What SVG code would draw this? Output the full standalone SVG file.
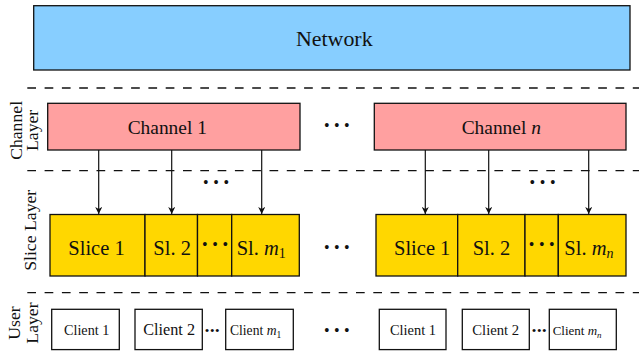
<svg xmlns="http://www.w3.org/2000/svg" width="639" height="353" viewBox="0 0 639 353">
<style>
.box{stroke:#111;stroke-width:1.3}
.net{fill:#87CEFF}
.ch{fill:#FFA0A0}
.sl{fill:#FFD700}
.cl{fill:#fff}
.dash{stroke:#111;stroke-width:1.3;stroke-dasharray:8.7 8.6;fill:none}
.conn{stroke:#111;stroke-width:1.2;fill:none}
text{font-family:"Liberation Serif","Times New Roman",serif;fill:#111}
.lay{font-size:17.7px;text-anchor:middle}
.dots{font-size:16px;text-anchor:middle}
.sdots{font-size:13px;text-anchor:middle}
.m{font-style:italic}
</style>
<defs>
<marker id="arr" viewBox="0 0 10 10" refX="10" refY="5" markerWidth="7" markerHeight="7" markerUnits="userSpaceOnUse" orient="auto">
<path d="M0,0 L10,5 L0,10 L3,5 Z" fill="#111"/>
</marker>
</defs>
<g id="separators">
<line class="dash" x1="27.3" y1="88" x2="639" y2="88"/>
<line class="dash" x1="27.3" y1="170.7" x2="639" y2="170.7"/>
<line class="dash" x1="27.3" y1="292.7" x2="639" y2="292.7"/>
</g>
<g id="layer-labels">
<text class="lay" transform="translate(21.5,130.4) rotate(-90)">Channel</text>
<text class="lay" transform="translate(37.5,130.4) rotate(-90)">Layer</text>
<text class="lay" transform="translate(36,230.3) rotate(-90)">Slice Layer</text>
<text class="lay" transform="translate(20.3,323) rotate(-90)">User</text>
<text class="lay" transform="translate(37.5,323) rotate(-90)">Layer</text>
</g>
<g id="network">
<rect class="box net" x="33.7" y="5.7" width="596.3" height="64.3"/>
<text x="296" y="45.7" font-size="21.9">Network</text>
</g>
<g id="channel-1">
<rect class="box ch" x="47.7" y="103.3" width="252.3" height="46.7"/>
<text x="127.7" y="134" font-size="19.4">Channel 1</text>
</g>
<g id="channel-n">
<rect class="box ch" x="374.3" y="103.3" width="251.7" height="46.7"/>
<text x="461.7" y="134" font-size="19.4">Channel <tspan class="m">n</tspan></text>
</g>
<g id="slice-1-1">
<rect class="box sl" x="50" y="214.5" width="95" height="61.5"/>
<text x="68.3" y="254.5" font-size="20.5">Slice 1</text>
</g>
<g id="slice-1-2">
<rect class="box sl" x="145" y="214.5" width="52.5" height="61.5"/>
<text x="153.3" y="254.5" font-size="20.5">Sl. 2</text>
</g>
<g id="slice-1-dots">
<rect class="box sl" x="197.5" y="214.5" width="34.2" height="61.5"/>
<text class="dots" x="204.7 215 225.3" y="249.5">•••</text>
</g>
<g id="slice-1-m">
<rect class="box sl" x="231.7" y="214.5" width="67.6" height="61.5"/>
<text x="236.7" y="254.5" font-size="20.5">Sl. <tspan class="m">m</tspan><tspan font-size="14" dy="3">1</tspan></text>
</g>
<g id="slice-n-1">
<rect class="box sl" x="376" y="214.5" width="81.7" height="61.5"/>
<text x="394" y="254.5" font-size="20.5">Slice 1</text>
</g>
<g id="slice-n-2">
<rect class="box sl" x="457.7" y="214.5" width="67.3" height="61.5"/>
<text x="472.7" y="254.5" font-size="20.5">Sl. 2</text>
</g>
<g id="slice-n-dots">
<rect class="box sl" x="525" y="214.5" width="33.3" height="61.5"/>
<text class="dots" x="531.5 541.7 551.9" y="249.5">•••</text>
</g>
<g id="slice-n-m">
<rect class="box sl" x="558.3" y="214.5" width="67.7" height="61.5"/>
<text x="564.3" y="254.5" font-size="20.5">Sl. <tspan class="m">m</tspan><tspan class="m" font-size="14" dy="3">n</tspan></text>
</g>
<g id="client-1-1">
<rect class="box cl" x="51.7" y="309.3" width="67.6" height="40.3"/>
<text x="64" y="335" font-size="14.2">Client 1</text>
</g>
<g id="client-1-2">
<rect class="box cl" x="135" y="309.3" width="67.3" height="40.3"/>
<text x="143.3" y="335" font-size="16.2">Client 2</text>
</g>
<g id="client-1-m">
<rect class="box cl" x="225.7" y="309.3" width="67.6" height="40.3"/>
<text x="230" y="335" font-size="13.6">Client  <tspan class="m">m</tspan><tspan font-size="9.5" dy="2.5">1</tspan></text>
</g>
<g id="client-n-1">
<rect class="box cl" x="379.3" y="309.3" width="66.7" height="40.3"/>
<text x="390" y="335" font-size="14.4">Client 1</text>
</g>
<g id="client-n-2">
<rect class="box cl" x="462.3" y="309.3" width="67" height="40.3"/>
<text x="472.3" y="335" font-size="14.7">Client 2</text>
</g>
<g id="client-n-m">
<rect class="box cl" x="549.3" y="309.3" width="67" height="40.3"/>
<text x="552.7" y="335" font-size="13">Client  <tspan class="m">m</tspan><tspan class="m" font-size="9" dy="2.5">n</tspan></text>
</g>
<g id="ellipses">
<text class="dots" x="326.7 336.7 346.7" y="131.2">•••</text>
<text class="dots" x="205.7 216 226.3" y="187.9">•••</text>
<text class="dots" x="532.3 542.5 552.7" y="187.9">•••</text>
<text class="dots" x="326.7 336.7 346.7" y="253.2">•••</text>
<text class="sdots" x="207 212.2 217.4" y="334.8">•••</text>
<text class="sdots" x="534 539.2 544.4" y="334.8">•••</text>
<text class="dots" x="326.7 336.7 346.7" y="335.9">•••</text>
</g>
<g id="connectors">
<line class="conn" x1="98.7" y1="150" x2="98.7" y2="214" marker-end="url(#arr)"/>
<line class="conn" x1="171.7" y1="150" x2="171.7" y2="214" marker-end="url(#arr)"/>
<line class="conn" x1="261.7" y1="150" x2="261.7" y2="214" marker-end="url(#arr)"/>
<line class="conn" x1="425.3" y1="150" x2="425.3" y2="214" marker-end="url(#arr)"/>
<line class="conn" x1="488.7" y1="150" x2="488.7" y2="214" marker-end="url(#arr)"/>
<line class="conn" x1="588.7" y1="150" x2="588.7" y2="214" marker-end="url(#arr)"/>
</g>
</svg>
